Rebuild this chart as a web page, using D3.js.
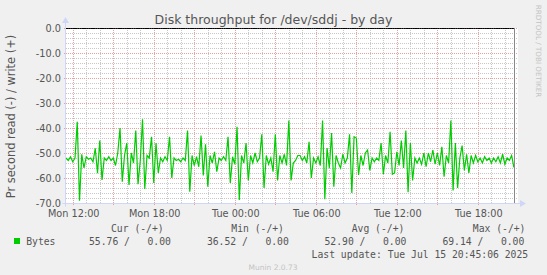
<!DOCTYPE html>
<html>
<head>
<meta charset="utf-8">
<script src="https://cdn.jsdelivr.net/npm/d3@7"></script>
<style>
    body { margin: 0; background: #f0f0f0; }
    svg { display: block; }
    text { font-family: "DejaVu Sans", sans-serif; }
    .mono { font-family: "DejaVu Sans Mono", monospace; }
</style>
</head>
<body>
<div id="chart"></div>
<script>
// 10 minute samples, Mon 11:30 -> Tue 20:40 (read, shown negative)
const startTime = new Date(2025, 6, 14, 11, 30);
const endTime = new Date(2025, 6, 15, 20, 45);
const stepMinutes = 10;
const readBytes = [
    -52, -53, -51.5, -53.5, -52, -37.5, -69.1, -50.5, -56, -51.5,
    -52.5, -52, -53.5, -48.1, -58.1, -45, -60.8, -52, -53, -51.5,
    -53, -52, -55, -50, -40, -61.5, -51, -46, -62.8, -50,
    -54, -41, -62.5, -53, -36.5, -64.4, -51, -52, -43.5, -62,
    -46, -58, -52, -53.5, -51.5, -53, -43.5, -60, -52, -53,
    -52.5, -53.5, -52, -53, -41, -65.5, -51, -55, -51.5, -55.5,
    -43, -59, -46.5, -63.5, -51, -54, -49.5, -57.5, -52, -53,
    -51.5, -53, -43.5, -62, -51.5, -54.5, -39.5, -68.8, -51, -54,
    -46, -61, -51, -54, -50, -53.5, -52, -42.5, -64, -51,
    -54.5, -52, -57.5, -42.5, -61, -51, -54, -50.5, -55, -37,
    -61, -54, -53, -51, -51, -53, -51.5, -54, -45.5, -60,
    -52, -54, -51.5, -55, -37, -68.5, -48, -56, -42, -63.5,
    -51, -54, -56, -50.5, -54, -52, -42.5, -66, -43.5, -44,
    -58.8, -51, -55, -50, -48.8, -57, -52, -53.5, -52, -53,
    -46, -58.5, -51, -54, -41.5, -58.5, -58, -49.5, -55, -45,
    -56, -41, -65.7, -46, -61, -52, -54, -52, -54.5, -50,
    -55.5, -50, -53.5, -48.8, -54.5, -50, -55, -47.5, -59.5, -51,
    -54, -37, -65, -46, -64, -52, -47, -57, -50.5, -58,
    -51, -54, -51, -53.5, -52, -54, -51.5, -53, -52, -54,
    -52, -53.5, -51.5, -54, -50.5, -54.5, -52, -53, -51, -55.76
];
const writeBytes = readBytes.map(() => 0);

const yTicks = [0, -10, -20, -30, -40, -50, -60, -70];
const xTickTimes = [
    new Date(2025, 6, 14, 12), new Date(2025, 6, 14, 18), new Date(2025, 6, 15, 0),
    new Date(2025, 6, 15, 6), new Date(2025, 6, 15, 12), new Date(2025, 6, 15, 18)
];
const xTickLabels = ["Mon 12:00", "Mon 18:00", "Tue 00:00", "Tue 06:00", "Tue 12:00", "Tue 18:00"];

const legendHeads = ["Cur (-/+)", "Min (-/+)", "Avg (-/+)", "Max (-/+)"];
const legendValues = ["55.76 /   0.00", "36.52 /   0.00", "52.90 /   0.00", "69.14 /   0.00"];
const seriesName = "Bytes";
const lastUpdate = "Last update: Tue Jul 15 20:45:06 2025";

class disk_day {
    constructor() {
        this.w = 547;
        this.h = 275;
        this.plot = { l: 66, r: 515, t: 28, b: 203 };
        this.axisColor = '#cfd6f8';
        this.fontColor = '#555';

        this.svg = d3.select('#chart')
            .append('svg')
            .attr('width', this.w)
            .attr('height', this.h);

        this.scaleX = d3.scaleTime()
            .domain([startTime, endTime])
            .range([this.plot.l, this.plot.r]);
        this.scaleY = d3.scaleLinear()
            .domain([-70, 0])
            .range([this.plot.b, this.plot.t]);

        this.data = readBytes.map((v, i) => ({
            t: d3.timeMinute.offset(startTime, i * stepMinutes),
            read: v,
            write: writeBytes[i]
        }));

        this.createBackground();
        this.createGrid();
        this.createLines();
        this.createAxes();
        this.createTexts();
        this.createLegend();
    }

    createBackground() {
        this.svg.append('rect')
            .attr('width', this.w)
            .attr('height', this.h)
            .attr('fill', '#f0f0f0');
        this.svg.append('rect')
            .attr('x', this.plot.l)
            .attr('y', this.plot.t)
            .attr('width', this.plot.r - this.plot.l + 3)
            .attr('height', this.plot.b - this.plot.t)
            .attr('fill', '#fff');
    }

    createGrid() {
        const g = this.svg.append('g').attr('class', 'grid');
        const px = v => Math.round(v) + 0.5;

        // minor
        const hours = d3.timeHour.range(startTime, endTime).filter(d => d.getHours() % 3 !== 0);
        g.selectAll('.vminor')
            .data(hours)
            .join('line')
            .attr('class', 'vminor')
            .attr('x1', d => px(this.scaleX(d)))
            .attr('x2', d => px(this.scaleX(d)))
            .attr('y1', this.plot.t)
            .attr('y2', this.plot.b)
            .attr('stroke', '#c8c8c8')
            .attr('stroke-dasharray', '1,1');

        const minorY = d3.range(-68, 0, 2).filter(d => d % 10 !== 0);
        g.selectAll('.hminor')
            .data(minorY)
            .join('line')
            .attr('class', 'hminor')
            .attr('x1', this.plot.l)
            .attr('x2', this.plot.r + 3)
            .attr('y1', d => px(this.scaleY(d)))
            .attr('y2', d => px(this.scaleY(d)))
            .attr('stroke', '#c8c8c8')
            .attr('stroke-dasharray', '1,1');

        // major
        const majors = d3.timeHour.every(3).range(startTime, endTime);
        g.selectAll('.vmajor')
            .data(majors)
            .join('line')
            .attr('class', 'vmajor')
            .attr('x1', d => px(this.scaleX(d)))
            .attr('x2', d => px(this.scaleX(d)))
            .attr('y1', this.plot.t)
            .attr('y2', this.plot.b + 3)
            .attr('stroke', '#eba0a0')
            .attr('stroke-dasharray', '1,1');

        g.selectAll('.hmajor')
            .data(yTicks.filter(d => d > -70))
            .join('line')
            .attr('class', 'hmajor')
            .attr('x1', this.plot.l - 2)
            .attr('x2', this.plot.r + 3)
            .attr('y1', d => px(this.scaleY(d)))
            .attr('y2', d => px(this.scaleY(d)))
            .attr('stroke', '#eba0a0')
            .attr('stroke-dasharray', '1,1');
    }

    createLines() {
        const lineRead = d3.line()
            .x(d => this.scaleX(d.t))
            .y(d => this.scaleY(d.read));
        const lineWrite = d3.line()
            .x(d => this.scaleX(d.t))
            .y(d => Math.round(this.scaleY(d.write)) + 0.5);

        this.svg.append('path')
            .datum(this.data)
            .attr('d', lineRead)
            .attr('fill', 'none')
            .attr('stroke', '#00cc00')
            .attr('stroke-width', 1.2);

        this.svg.append('path')
            .datum(this.data.concat([{ t: endTime, write: 0 }]))
            .attr('d', lineWrite)
            .attr('fill', 'none')
            .attr('stroke', '#000')
            .attr('stroke-width', 1);

        // now line
        this.svg.append('line')
            .attr('x1', this.plot.r - 0.5)
            .attr('x2', this.plot.r - 0.5)
            .attr('y1', this.plot.t)
            .attr('y2', this.plot.b)
            .attr('stroke', '#888');
    }

    createAxes() {
        const g = this.svg.append('g').attr('class', 'axes');
        const c = this.axisColor;
        const b = this.plot.b + 0.5;
        const l = this.plot.l - 0.5;

        g.append('line')
            .attr('x1', l - 3).attr('x2', this.plot.r + 6)
            .attr('y1', b).attr('y2', b)
            .attr('stroke', c);
        g.append('path')
            .attr('d', `M${this.plot.r + 5},${b - 3.5}L${this.plot.r + 11},${b}L${this.plot.r + 5},${b + 3.5}Z`)
            .attr('fill', c);

        g.append('line')
            .attr('x1', l).attr('x2', l)
            .attr('y1', b + 3).attr('y2', this.plot.t - 6)
            .attr('stroke', c);
        g.append('path')
            .attr('d', `M${l - 3.5},${this.plot.t - 5}L${l},${this.plot.t - 11}L${l + 3.5},${this.plot.t - 5}Z`)
            .attr('fill', c);

        // tick labels
        const fmt = d => d.toFixed(1);
        g.selectAll('.ylab')
            .data(yTicks)
            .join('text')
            .attr('class', 'ylab')
            .attr('x', 61)
            .attr('y', d => this.scaleY(d) + 3.5)
            .attr('text-anchor', 'end')
            .attr('font-size', 9.72)
            .attr('fill', this.fontColor)
            .text(fmt);

        g.selectAll('.xlab')
            .data(xTickTimes)
            .join('text')
            .attr('class', 'xlab')
            .attr('x', d => this.scaleX(d) + 1)
            .attr('y', 216.5)
            .attr('text-anchor', 'middle')
            .attr('font-size', 9.72)
            .attr('fill', this.fontColor)
            .text((d, i) => xTickLabels[i]);
    }

    createTexts() {
        this.svg.append('text')
            .attr('x', 273.5)
            .attr('y', 24)
            .attr('text-anchor', 'middle')
            .attr('font-size', 12.5)
            .attr('fill', '#555')
            .text('Disk throughput for /dev/sddj - by day');

        this.svg.append('text')
            .attr('transform', `translate(15, ${(this.plot.t + this.plot.b) / 2 + 1}) rotate(-90)`)
            .attr('text-anchor', 'middle')
            .attr('font-size', 11.4)
            .attr('fill', this.fontColor)
            .text('Pr second read (-) / write (+)');

        this.svg.append('text')
            .attr('transform', 'translate(535.5, 51) rotate(90)')
            .attr('text-anchor', 'middle')
            .attr('font-size', 7.2)
            .attr('fill', '#c4c4c4')
            .text('RRDTOOL / TOBI OETIKER');

        this.svg.append('text')
            .attr('x', 273)
            .attr('y', 270)
            .attr('text-anchor', 'middle')
            .attr('font-size', 7.5)
            .attr('fill', '#c4c4c4')
            .text('Munin 2.0.73');
    }

    createLegend() {
        const g = this.svg.append('g').attr('class', 'legend');
        const headX = [111, 231.3, 351.7, 472.8];
        const valX = [89, 206.9, 324.5, 442.4];

        g.selectAll('.head')
            .data(legendHeads)
            .join('text')
            .attr('class', 'head mono')
            .attr('x', (d, i) => headX[i])
            .attr('y', 232.3)
            .attr('font-size', 9.72)
            .attr('fill', this.fontColor)
            .text(d => d);

        g.append('rect')
            .attr('x', 14).attr('y', 238)
            .attr('width', 6).attr('height', 6)
            .attr('fill', '#00cc00');

        g.append('text')
            .attr('class', 'mono')
            .attr('x', 26.2).attr('y', 245)
            .attr('font-size', 9.72)
            .attr('fill', this.fontColor)
            .text(seriesName);

        g.selectAll('.val')
            .data(legendValues)
            .join('text')
            .attr('class', 'val mono')
            .attr('x', (d, i) => valX[i])
            .attr('y', 245)
            .attr('font-size', 9.72)
            .attr('fill', this.fontColor)
            .attr('xml:space', 'preserve')
            .style('white-space', 'pre')
            .text(d => d);

        g.append('text')
            .attr('class', 'mono')
            .attr('x', 311.6).attr('y', 258)
            .attr('font-size', 9.72)
            .attr('fill', this.fontColor)
            .style('white-space', 'pre')
            .text(lastUpdate);
    }
}

new disk_day();
</script>
</body>
</html>
